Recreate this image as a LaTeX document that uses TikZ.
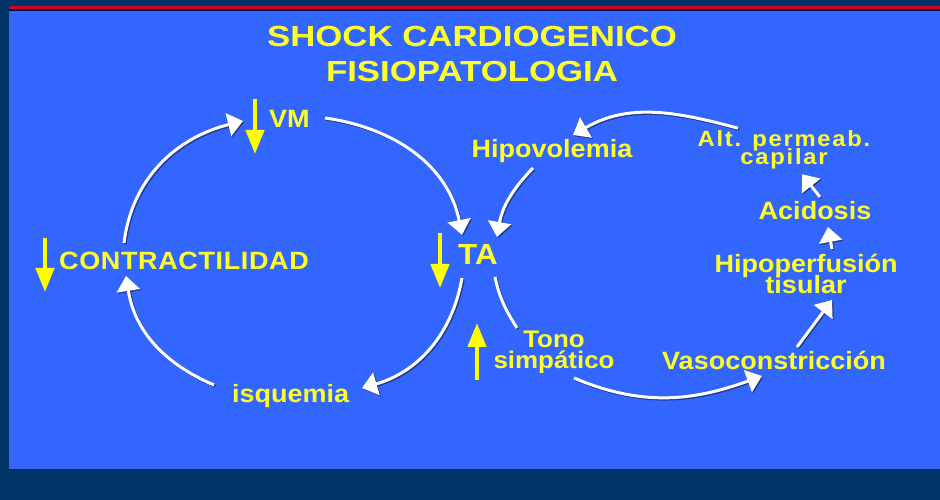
\documentclass[tikz,border=0pt]{standalone}
\usepackage{fontspec}
\setmainfont{Liberation Sans}[FakeStretch=1.08]
\newfontfamily\titlefamily{Liberation Sans}[FakeStretch=1.2]
\usetikzlibrary{arrows.meta,calc}
\definecolor{navy}{RGB}{0,51,102}
\definecolor{panelblue}{RGB}{51,102,255}
\definecolor{redline}{RGB}{204,0,51}
\definecolor{darkline}{RGB}{10,10,60}
\definecolor{txtyellow}{RGB}{255,255,40}
\definecolor{arryellow}{RGB}{255,255,0}
\definecolor{shade}{RGB}{20,30,70}
\newcommand\lblfont{\bfseries\fontsize{25}{21}\selectfont\lineskiplimit=-100pt\relax}
\begin{document}
\begin{tikzpicture}[x=1pt,y=1pt,
  lbl/.style={text=txtyellow,inner sep=0pt,align=center,font=\lblfont},
  titlestyle/.style={text=txtyellow,inner sep=0pt,align=center,
    font={\titlefamily\bfseries\fontsize{29}{35}\selectfont\lineskiplimit=-100pt\relax}},
  yarrow/.style={draw=arryellow,line width=4.5pt,-{Triangle[width=18pt,length=24pt]}},
  wline/.style={draw=white,line width=3pt,
    preaction={draw=shade,opacity=0.6,line width=3pt,transform canvas={shift={(1.2pt,-1.2pt)}}}},
  warrow/.style={wline,-{Triangle[width=23pt,length=15pt]}}]
% background
\fill[navy] (0,0) rectangle (940,500);
\fill[panelblue] (9,31) rectangle (940,489);
\fill[darkline] (9,489) rectangle (940,491);
\fill[redline] (9,491) rectangle (940,494);
% title
\node[titlestyle] (title) at (472,446) {SHOCK CARDIOGENICO\\FISIOPATOLOGIA};
% labels
\node[lbl,anchor=base west] (vm) at (269,372) {VM};
\node[lbl,anchor=base west,font={\bfseries\fontsize{25}{21}\selectfont\addfontfeatures{LetterSpace=2.5}}] (contr) at (59,230) {CONTRACTILIDAD};
\node[lbl,anchor=base west,font={\bfseries\fontsize{29}{30}\selectfont}] (ta) at (458,235) {TA};
\node[lbl,anchor=base west] (isq) at (232,97) {isquemia};
\node[lbl,anchor=base] (hipo) at (552,342) {Hipovolemia};
\node[lbl,font={\bfseries\fontsize{22}{18}\selectfont\addfontfeatures{LetterSpace=8}\lineskiplimit=-100pt\relax}] (alt) at (784,350.6) {Alt. permeab.\\capilar};
\node[lbl,anchor=base] (acid) at (815,280) {Acidosis};
\node[lbl] (hipoperf) at (806,225.6) {Hipoperfusión\\tisular};
\node[lbl,font={\bfseries\fontsize{24}{21}\selectfont\lineskiplimit=-100pt\relax}] (tono) at (554,148) {Tono\\simpático};
\node[lbl,anchor=base] (vaso) at (774,130) {Vasoconstricción};
% yellow increase/decrease arrows
\draw[yarrow] ($(vm.base west)+(-14,29)$) -- ++(0,-55);
\draw[yarrow] ($(contr.base west)+(-14,32)$) -- ++(0,-54);
\draw[yarrow] ($(ta.base west)+(-18,32)$) -- ++(0,-55);
\draw[yarrow] ($(tono.center)+(-77,-28)$) -- ++(0,57);
% left cycle
\draw[warrow] ($(contr.base west)+(65,27)$) to[out=83,in=194] ($(vm.base west)+(-26,7)$);
\draw[warrow] ($(vm.base west)+(56,10)$) to[out=-8,in=101] ($(ta.base west)+(4,30)$);
\draw[warrow] ($(ta.base west)+(4,-13)$) to[out=-100,in=16] ($(isq.base west)+(130,15)$);
\draw[warrow] ($(isq.base west)+(-18,18)$) to[out=157,in=-81] ($(contr.base west)+(67,-6)$);
% right cycle
\draw[warrow] ($(alt.center)+(-46,21.2)$) to[out=165,in=30] ($(hipo.base)+(21,23)$);
\draw[warrow] ($(hipo.base)+(-19,-10)$) to[out=226,in=80] ($(ta.base west)+(39,28)$);
\draw[wline] ($(ta.base west)+(37,-12)$) to[out=-78,in=122] ($(tono.center)+(-37,24)$);
\draw[warrow] ($(tono.center)+(20,-26)$) to[out=-23,in=200] ($(vaso.base)+(-12,-6)$);
\draw[warrow] ($(vaso.base)+(23,23)$) -- ($(hipoperf.center)+(26,-25.6)$);
\draw[warrow] ($(hipoperf.center)+(26,25.4)$) -- ($(acid.base)+(13,-7)$);
\draw[warrow] ($(acid.base)+(5,23)$) -- ($(alt.center)+(18,-24.8)$);
\end{tikzpicture}
\end{document}
